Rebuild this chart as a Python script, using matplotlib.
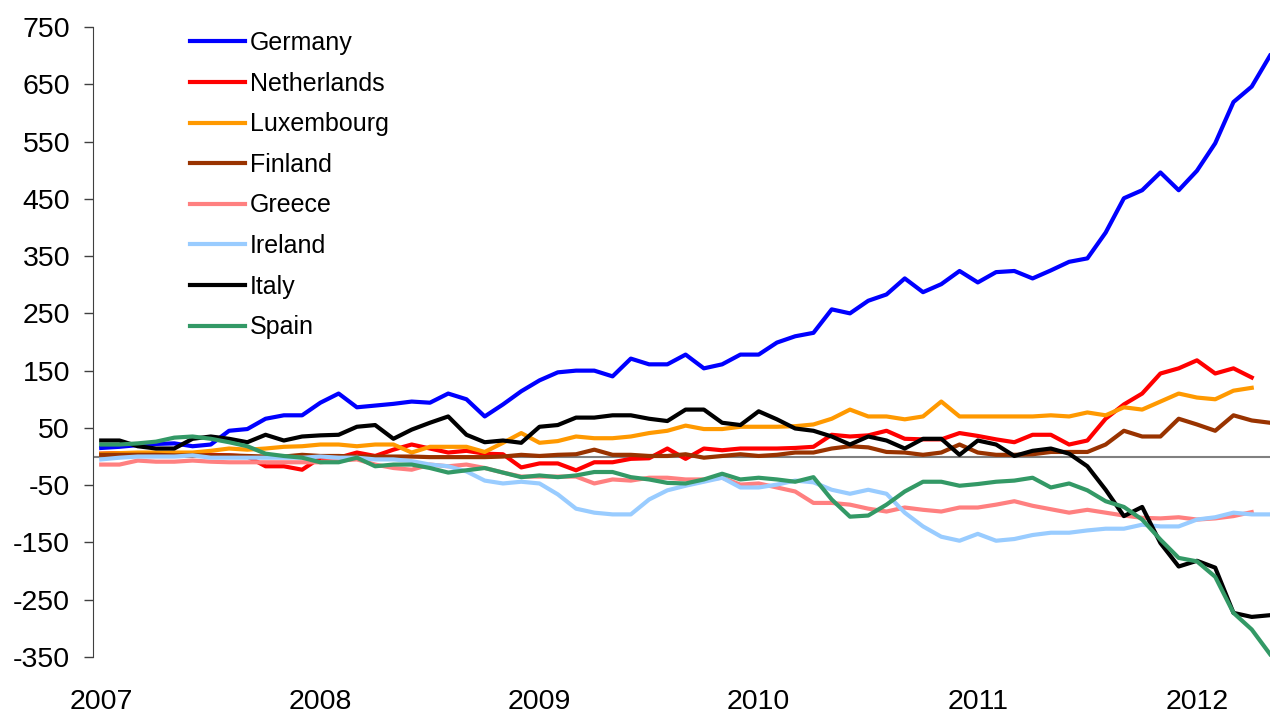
import numpy as np
import matplotlib
matplotlib.use("Agg")
import matplotlib.pyplot as plt

plt.rcParams['font.family'] = ['Liberation Sans', 'DejaVu Sans']

# monthly points, Jan 2007 = 0
germany = [15, 17, 20, 22, 23, 18, 21, 45, 48, 66, 72, 72, 94, 110, 86, 89, 92, 96, 94, 110,
           100, 70, 91, 114, 133, 147, 150, 150, 140, 171, 161, 161, 178, 154, 161, 178, 178, 199,
           210, 216, 257, 250, 272, 283, 311, 287, 301, 324, 304, 322, 324, 311, 325, 340, 346,
           391, 451, 465, 496, 465, 499, 547, 619, 646, 700]
netherlands = [5, 6, 5, 4, 3, 3, 3, 2, 0, -17, -17, -23, -2, -2, 7, 1, 12, 21, 14, 7, 10, 5, 4,
               -19, -12, -12, -24, -10, -10, -4, -3, 14, -4, 14, 11, 14, 14, 14, 15, 17, 38, 35,
               37, 45, 31, 30, 30, 41, 36, 30, 25, 38, 38, 21, 28, 66, 91, 110, 145, 154, 168,
               145, 154, 138]
luxembourg = [5, 6, 7, 7, 7, 7, 10, 14, 12, 14, 17, 18, 21, 21, 18, 21, 21, 7, 17, 17, 17, 8,
              24, 41, 24, 27, 35, 32, 32, 35, 41, 45, 54, 48, 48, 52, 52, 52, 53, 56, 66, 82, 70,
              70, 65, 70, 96, 70, 70, 70, 70, 70, 72, 70, 77, 72, 86, 82, 96, 110, 103, 100, 115,
              120]
finland = [3, 3, 3, 3, 2, 2, 2, 2, 1, 0, 0, 3, 1, 1, 0, 0, 0, 0, -1, -1, -1, -1, 0, 3, 1, 3, 4,
           12, 3, 3, 1, 1, 4, -2, 1, 4, 1, 3, 7, 7, 14, 18, 16, 8, 7, 3, 7, 21, 7, 3, 3, 4, 8, 8,
           8, 21, 45, 35, 35, 66, 56, 45, 72, 63, 59]
greece = [-14, -14, -7, -9, -9, -7, -9, -10, -10, -10, -10, -10, -10, -7, -5, -14, -20, -23,
          -14, -17, -14, -20, -28, -35, -35, -35, -35, -47, -40, -42, -37, -37, -40, -40, -37,
          -49, -47, -54, -61, -81, -81, -84, -91, -96, -89, -93, -96, -89, -89, -84, -78, -86,
          -92, -98, -93, -98, -103, -107, -108, -106, -110, -108, -104, -97]
ireland = [-5, -2, 0, 0, 0, 2, -2, -2, -2, -2, -2, -2, 0, -2, -2, -5, -5, -8, -14, -17, -26,
           -42, -47, -44, -47, -66, -91, -98, -101, -101, -75, -59, -51, -44, -37, -54, -54, -49,
           -42, -45, -58, -65, -58, -65, -98, -122, -140, -147, -135, -147, -144, -137, -133,
           -133, -129, -126, -126, -119, -122, -122, -110, -106, -98, -101, -101]
italy = [28, 28, 18, 14, 14, 31, 35, 31, 25, 38, 28, 35, 37, 38, 52, 55, 31, 47, 59, 70, 38,
         25, 28, 24, 52, 55, 68, 68, 72, 72, 66, 62, 82, 82, 59, 55, 79, 65, 49, 45, 35, 21, 35,
         28, 14, 31, 31, 3, 28, 21, 1, 10, 14, 5, -17, -58, -104, -88, -151, -192, -182, -194,
         -273, -280, -277]
spain = [21, 21, 23, 26, 33, 35, 31, 25, 18, 5, 1, -2, -10, -10, -2, -17, -14, -14, -20, -28,
         -24, -20, -28, -36, -33, -36, -33, -27, -27, -36, -40, -46, -47, -40, -30, -40, -37,
         -40, -44, -36, -75, -105, -103, -84, -61, -44, -44, -51, -48, -44, -42, -37, -54, -47,
         -59, -78, -88, -110, -145, -177, -183, -210, -273, -302, -345]

series = [("Germany", germany, "#0000FF"),
          ("Netherlands", netherlands, "#FF0000"),
          ("Luxembourg", luxembourg, "#FF9900"),
          ("Finland", finland, "#993300"),
          ("Greece", greece, "#FF8080"),
          ("Ireland", ireland, "#99CCFF"),
          ("Italy", italy, "#000000"),
          ("Spain", spain, "#339966")]

years = ["2007", "2008", "2009", "2010", "2011", "2012"]
yticks = list(range(-350, 751, 100))

fig = plt.figure(figsize=(12.7, 7.13), dpi=100)
ax = fig.add_axes([93 / 1270, 1 - 657 / 713, 1 - 93 / 1270, (657 - 27) / 713])

ax.axhline(0, color="#808080", lw=1.5, zorder=1)
for name, vals, col in series:
    ax.plot(np.arange(len(vals)), vals, color=col, lw=3, label=name, solid_joinstyle="round")

ax.set_xlim(-0.45, 64)
ax.set_ylim(-350, 750)
ax.set_yticks(yticks)
ax.set_yticklabels([str(v) for v in yticks], fontsize=20.5)
ax.set_xticks(np.arange(len(years)) * 12)
ax.set_xticklabels(years, fontsize=20.5)
ax.tick_params(axis="x", length=0, pad=23)
ax.tick_params(axis="y", direction="out", length=6.5, width=1, pad=10, color="#404040")

for s in ["top", "right", "bottom"]:
    ax.spines[s].set_visible(False)
ax.spines["left"].set_color("#404040")

leg = fig.legend(loc="upper left", bbox_to_anchor=(190 / 1270, 1 - 31 / 713), frameon=False,
                 fontsize=18, handlelength=2.2, handletextpad=0.2, labelspacing=0.665,
                 borderpad=0, borderaxespad=0)

fig.savefig("out.png", dpi=100)
